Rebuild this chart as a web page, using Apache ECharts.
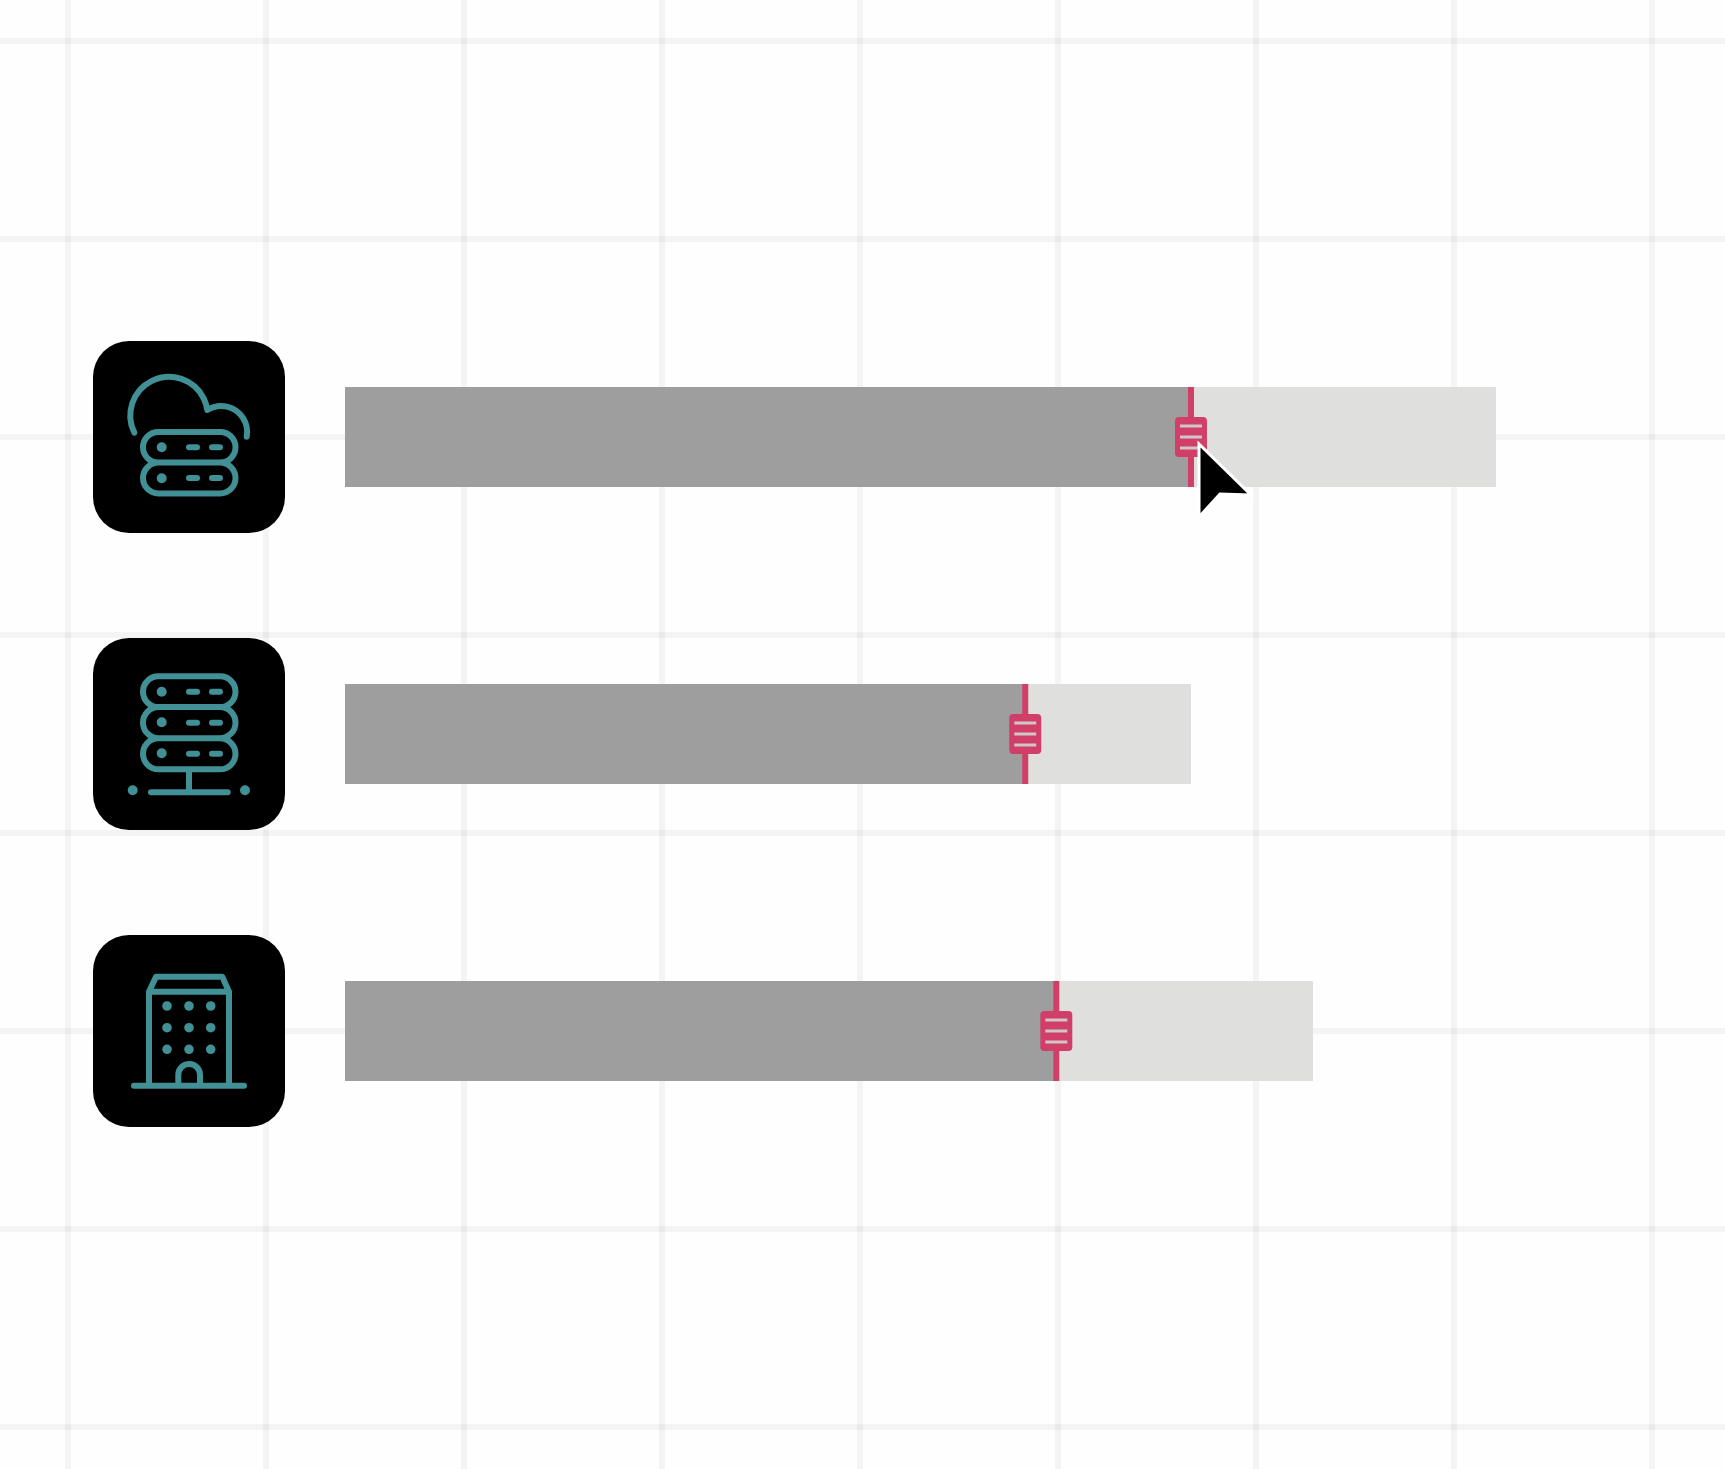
<!DOCTYPE html>
<html>
<head>
<meta charset="utf-8">
<title>Resource usage sliders</title>
<style>
  html, body { margin: 0; padding: 0; background: #fefefe; }
  #chart { width: 1725px; height: 1469px; }
</style>
<script src="https://cdn.jsdelivr.net/npm/echarts@6/dist/echarts.min.js"></script>
</head>
<body>
<div id="chart"></div>
<script>
// rows top to bottom, values in percent of the longest bar
var categories = ['cloud', 'server', 'building'];
var capacity = [100, 73.5, 84.1];
var used = [73.5, 59.1, 61.8];

var ICON_COLOR = '#409095';
var PINK = '#d13f69';

function dot(x, y, r) {
	return 'M' + (x - r) + ' ' + y + 'A' + r + ' ' + r + ' 0 1 0 ' + (x + r) + ' ' + y +
		'A' + r + ' ' + r + ' 0 1 0 ' + (x - r) + ' ' + y + 'Z';
}

// one rounded server unit with its two dashes
function unit(y0, y1) {
	var r = (y1 - y0) / 2, m = (y0 + y1) / 2;
	return 'M' + (-46 + r) + ' ' + y0 + 'L' + (46.5 - r) + ' ' + y0 +
		'A' + r + ' ' + r + ' 0 0 1 ' + (46.5 - r) + ' ' + y1 +
		'L' + (-46 + r) + ' ' + y1 +
		'A' + r + ' ' + r + ' 0 0 1 ' + (-46 + r) + ' ' + y0 + 'Z' +
		'M0 ' + m + 'L8 ' + m + 'M23 ' + m + 'L31 ' + m;
}

var icons = {
	cloud: {
		lines: 'M-54.7 -4.3A38.7 38.7 0 1 1 18.3 -27A26 26 0 0 1 57.7 -0.3' + unit(-5, 25.5) + unit(25.5, 56.5),
		dots: dot(-27.3, 10.3, 5) + dot(-27.3, 41.3, 5)
	},
	server: {
		lines: unit(-57.7, -27) + unit(-27, 4.3) + unit(4.3, 35.3) + 'M0 35.3L0 58.3M-38 58.3L38.7 58.3',
		dots: dot(-27.3, -42.3, 5) + dot(-27.3, -11.7, 5) + dot(-27.3, 19.3, 5) + dot(-56.3, 56.3, 5) + dot(56, 56.3, 5)
	},
	building: {
		lines: 'M-40 54.7L-40 -39.3L40 -39.3L40 54.7M-40 -39.3L-33 -54.3L33.3 -54.3L40 -39.3M-55 54.7L55 54.7' +
			'M-10.7 54.7L-10.7 44A10.85 11 0 0 1 11 44L11 54.7',
		dots: [-22, 0, 21.7].map(function (x) {
			return [-25, -3.3, 18.3].map(function (y) { return dot(x, y, 4.8); }).join('');
		}).join('')
	}
};

var myChart = echarts.init(document.getElementById('chart'));

var option = {
	animation: false,
	backgroundColor: '#fefefe',
	grid: [
		{ left: 68, width: 1584, top: 0, height: 1469 },
		{ left: 0, width: 1725, top: 41, height: 1386 },
		{ left: 345, width: 1151, top: 288.5, height: 891 }
	],
	xAxis: [
		{
			gridIndex: 0, type: 'value', min: 0, max: 8, interval: 1,
			axisLine: { show: false }, axisTick: { show: false }, axisLabel: { show: false },
			splitLine: { show: true, lineStyle: { color: 'rgba(0,0,0,0.04)', width: 6 } }
		},
		{ gridIndex: 1, type: 'value', min: 0, max: 1, show: false, splitLine: { show: false } },
		{ gridIndex: 2, type: 'value', min: 0, max: 100, show: false, splitLine: { show: false } }
	],
	yAxis: [
		{ gridIndex: 0, type: 'value', min: 0, max: 1, show: false, splitLine: { show: false } },
		{
			gridIndex: 1, type: 'value', min: 0, max: 7, interval: 1,
			axisLine: { show: false }, axisTick: { show: false }, axisLabel: { show: false },
			splitLine: { show: true, lineStyle: { color: 'rgba(0,0,0,0.04)', width: 6 } }
		},
		{ gridIndex: 2, type: 'category', inverse: true, data: categories, show: false }
	],
	series: [
		{
			type: 'bar', xAxisIndex: 2, yAxisIndex: 2, data: capacity,
			barWidth: 100, barGap: '-100%', itemStyle: { color: '#dfdfdd' }, silent: true
		},
		{
			type: 'bar', xAxisIndex: 2, yAxisIndex: 2, data: used,
			barWidth: 100, barGap: '-100%', itemStyle: { color: '#9e9e9e' }, silent: true
		},
		{
			// slider handle at the end of each used bar
			type: 'custom', xAxisIndex: 2, yAxisIndex: 2, silent: true, z: 5,
			data: used.map(function (v, i) { return [v, i]; }),
			encode: { x: 0, y: 1 },
			renderItem: function (params, api) {
				var p = api.coord([api.value(0), api.value(1)]);
				var bars = [-11, 0, 11].map(function (dy) {
					return {
						type: 'rect',
						shape: { x: -11, y: dy - 1.5, width: 22, height: 3 },
						style: { fill: '#cfc6c9' }
					};
				});
				return {
					type: 'group', x: p[0], y: p[1],
					children: [
						{ type: 'rect', shape: { x: -3, y: -50, width: 6, height: 100 }, style: { fill: PINK } },
						{ type: 'rect', shape: { x: -16, y: -20, width: 32, height: 40, r: 4 }, style: { fill: PINK } }
					].concat(bars)
				};
			}
		},
		{
			// black icon tile left of each bar
			type: 'custom', xAxisIndex: 2, yAxisIndex: 2, silent: true, z: 5,
			data: categories.map(function (c, i) { return [0, i]; }),
			encode: { x: 0, y: 1 },
			renderItem: function (params, api) {
				var p = api.coord([0, api.value(1)]);
				var icon = icons[categories[params.dataIndex]];
				return {
					type: 'group', x: 189, y: p[1],
					children: [
						{ type: 'rect', shape: { x: -96, y: -96, width: 192, height: 192, r: 36 }, style: { fill: '#000' } },
						{
							type: 'path', shape: { pathData: icon.lines },
							style: { fill: 'none', stroke: ICON_COLOR, lineWidth: 6, lineCap: 'round', lineJoin: 'round' }
						},
						{ type: 'path', shape: { pathData: icon.dots }, style: { fill: ICON_COLOR } }
					]
				};
			}
		}
	],
	graphic: [
		{
			// mouse pointer
			type: 'polygon', z: 100, silent: true,
			shape: { points: [[1199, 444], [1199, 517], [1220, 494], [1251, 495]] },
			style: { fill: '#000', stroke: '#fff', lineWidth: 3, lineJoin: 'miter' }
		}
	]
};

myChart.setOption(option);
</script>
</body>
</html>
